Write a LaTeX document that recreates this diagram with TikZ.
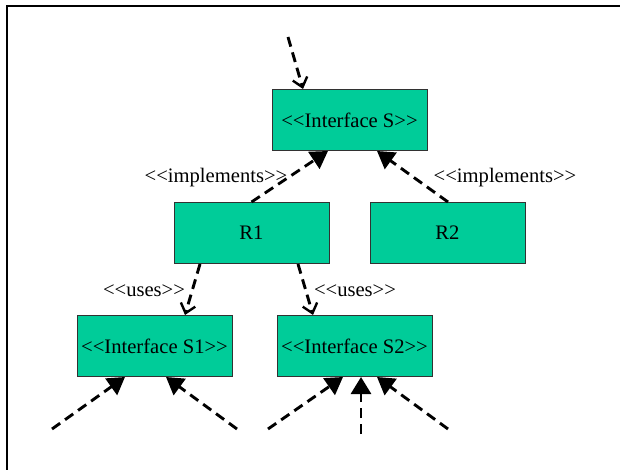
\documentclass[tikz,border=0pt]{standalone}
\usepackage{fontspec}
\setmainfont{Liberation Serif}[Ligatures=TeXOff]
\usetikzlibrary{arrows.meta}
\definecolor{boxfill}{RGB}{0,204,153}
\definecolor{boxline}{RGB}{50,50,50}
\tikzset{
  classbox/.style={draw=boxline, line width=1pt, fill=boxfill,
    minimum width=155pt, minimum height=61pt, inner sep=0pt,
    font=\fontsize{20.6}{24}\selectfont},
  stereo/.style={inner sep=0pt, font=\fontsize{20.6}{24}\selectfont},
  dep/.style={dashed, line width=2.9pt, dash pattern=on 10pt off 6pt,
    -{Straight Barb[length=9pt,width=15pt,line width=2.4pt]}},
  real/.style={dashed, line width=2.9pt, dash pattern=on 10pt off 6pt,
    -{Triangle[length=17pt,width=20pt]}},
}
\begin{document}
\begin{tikzpicture}[x=1pt,y=-1pt]
  \useasboundingbox (0,0) rectangle (620,470);
  % frame
  \draw[line width=2.8pt] (7,470) -- (7,6) -- (620,6);

  % classes
  \node[classbox] (S)  at (349.5,120) {<<Interface S>>};
  \node[classbox] (R1) at (251.5,233) {R1};
  \node[classbox] (R2) at (447.5,233) {R2};
  \node[classbox] (S1) at (154.5,346) {<<Interface S1>>};
  \node[classbox] (S2) at (354.5,346) {<<Interface S2>>};

  % free ends
  \coordinate (top)  at (288,37);
  \coordinate (a1)   at (52,429);
  \coordinate (a2)   at (237,429);
  \coordinate (b1)   at (268,429);
  \coordinate (b2)   at (361,434);
  \coordinate (b3)   at (448,429);

  % stereotype labels
  \node[stereo] (impl1) at (216,178) {<<implements>>};
  \node[stereo] (impl2) at (505,178) {<<implements>>};
  \node[stereo] (use1)  at (144,291) {<<uses>>};
  \node[stereo] (use2)  at (355,291) {<<uses>>};

  % connectors
  \draw[dep] (top) -- ([xshift=-46.5pt]S.north);
  \draw[real] (R1.north) -- ([xshift=-21.5pt]S.south);
  \draw[real] ([xshift=0.5pt]R2.north) -- ([xshift=27.5pt]S.south);
  \draw[dep] ([xshift=-51.5pt]R1.south) -- ([xshift=30.5pt]S1.north);
  \draw[dep] ([xshift=46.5pt]R1.south) -- ([xshift=-41.5pt]S2.north);
  \draw[real] (a1) -- ([xshift=-29.5pt]S1.south);
  \draw[real] (a2) -- ([xshift=11.5pt]S1.south);
  \draw[real] (b1) -- ([xshift=-11.5pt]S2.south);
  \draw[real] (b2) -- ([xshift=6.5pt]S2.south);
  \draw[real] (b3) -- ([xshift=22.5pt]S2.south);
\end{tikzpicture}
\end{document}
